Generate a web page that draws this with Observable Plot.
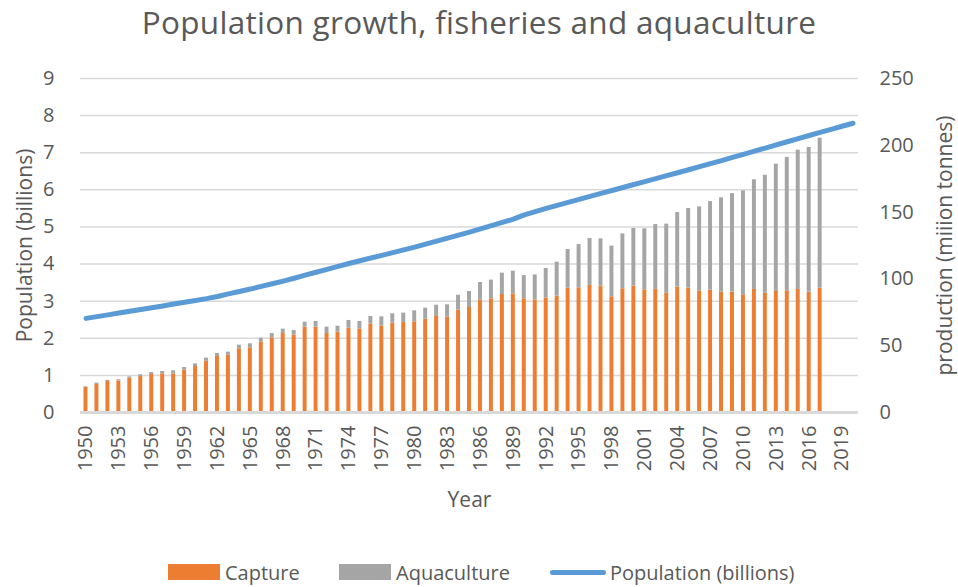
<!DOCTYPE html>
<html><head><meta charset="utf-8">
<script src="https://cdn.jsdelivr.net/npm/d3@7"></script>
<script src="https://cdn.jsdelivr.net/npm/@observablehq/plot@0.6"></script>
<style>
body{margin:0;background:#fff;font-family:"Open Sans", Lato, sans-serif;color:#595959;}
#wrap{position:relative;width:958px;height:587px;overflow:hidden;}
#title{position:absolute;left:0;top:0;width:958px;text-align:center;font-size:31.5px;line-height:44px;letter-spacing:0.3px;}
#chart{position:absolute;left:0;top:48px;}
.leg{position:absolute;top:560px;height:24px;display:flex;align-items:center;font-size:20px;white-space:nowrap;}
.sw{display:inline-block;width:52px;height:16px;margin-right:5px;}
.ln{display:inline-block;width:56px;height:5px;border-radius:3px;margin-right:4px;}
</style></head>
<body><div id="wrap">
<div id="title">Population growth, fisheries and aquaculture</div>
<div id="chart"></div>
<div class="leg" style="left:168px"><span class="sw" style="background:#ED7D31"></span>Capture</div>
<div class="leg" style="left:339px"><span class="sw" style="background:#A5A5A5"></span>Aquaculture</div>
<div class="leg" style="left:550px"><span class="ln" style="background:#5B9BD5"></span>Population (billions)</div>
</div>
<script>
const years = [1950,1951,1952,1953,1954,1955,1956,1957,1958,1959,1960,1961,1962,1963,1964,1965,1966,1967,1968,1969,1970,1971,1972,1973,1974,1975,1976,1977,1978,1979,1980,1981,1982,1983,1984,1985,1986,1987,1988,1989,1990,1991,1992,1993,1994,1995,1996,1997,1998,1999,2000,2001,2002,2003,2004,2005,2006,2007,2008,2009,2010,2011,2012,2013,2014,2015,2016,2017,2018,2019,2020];
// million tonnes, 1950-2017
const capture = [18.7,21.0,23.2,23.5,25.7,26.9,28.4,28.9,28.9,31.7,34.4,38.4,41.9,42.9,47.7,48.4,52.9,55.9,59.1,57.9,63.9,63.9,59.1,60.1,63.1,62.6,66.1,64.6,66.9,67.4,67.9,69.9,71.9,71.4,76.6,78.6,84.1,85.1,88.3,88.8,85.1,84.3,85.6,87.1,93.1,93.3,95.1,94.6,86.6,92.6,94.6,91.8,92.1,89.3,93.8,93.1,90.8,91.6,90.1,90.1,88.1,92.1,89.3,90.6,91.1,92.1,90.1,93.1];
const aquaculture = [0.5,1.0,0.8,1.0,1.0,1.3,1.5,1.8,2.3,2.0,2.0,2.3,2.3,2.3,2.7,3.0,2.7,3.2,3.3,3.5,3.7,4.2,4.8,4.5,5.8,5.5,5.8,7.0,7.0,7.0,8.2,8.2,8.4,9.2,11.2,12.0,13.2,14.0,16.0,17.0,17.4,18.7,22.2,25.4,28.9,32.4,35.1,35.4,37.9,41.1,43.1,45.7,48.6,51.7,55.9,59.6,63.1,66.3,70.6,73.8,77.8,82.1,88.3,95.3,99.8,104.3,108.3,112.2];
// billions, 1950-2020
const population = [2.536,2.584,2.631,2.679,2.728,2.773,2.821,2.871,2.922,2.971,3.019,3.068,3.126,3.195,3.262,3.326,3.397,3.468,3.541,3.618,3.700,3.779,3.858,3.937,4.015,4.089,4.162,4.234,4.308,4.383,4.458,4.536,4.617,4.698,4.778,4.861,4.946,5.034,5.121,5.209,5.327,5.414,5.498,5.581,5.663,5.744,5.824,5.904,5.983,6.062,6.143,6.222,6.301,6.381,6.461,6.542,6.623,6.705,6.789,6.873,6.957,7.041,7.126,7.211,7.296,7.380,7.464,7.548,7.631,7.713,7.795];
const leftTicks = [0,1,2,3,4,5,6,7,8,9];
const rightTicks = [0,50,100,150,200,250];
const xTicks = [1950,1953,1956,1959,1962,1965,1968,1971,1974,1977,1980,1983,1986,1989,1992,1995,1998,2001,2004,2007,2010,2013,2016,2019];
const seriesNames = ["Capture","Aquaculture"];

const k = 250 / 9; // production units per billion
const barData = [];
capture.forEach((v, i) => {
  barData.push({year: years[i], type: "Capture", value: v});
  barData.push({year: years[i], type: "Aquaculture", value: aquaculture[i]});
});
const popData = years.map((y, i) => ({year: y, pop: population[i]}));

const chart = Plot.plot({
  width: 958, height: 480,
  marginTop: 30, marginBottom: 116, marginLeft: 80, marginRight: 100,
  style: {fontFamily: '"Open Sans", Lato, sans-serif', fontSize: "18px", color: "#595959", background: "white", overflow: "visible"},
  x: {type: "band", domain: years, padding: 0},
  y: {domain: [0, 250]},
  color: {domain: seriesNames, range: ["#ED7D31", "#A5A5A5"]},
  marks: [
    Plot.ruleY(leftTicks.map(v => v * k), {stroke: "#d9d9d9", strokeWidth: 1.5}),
    Plot.barY(barData, {x: "year", y: "value", fill: "type", insetLeft: 3.5, insetRight: 3.5}),
    Plot.ruleY([0], {stroke: "#d9d9d9", strokeWidth: 3}),
    Plot.line(popData, {x: "year", y: d => d.pop * k, stroke: "#5B9BD5", strokeWidth: 5, strokeLinecap: "round", strokeLinejoin: "round"}),
    Plot.axisY(leftTicks.map(v => v * k), {anchor: "left", tickSize: 0, tickPadding: 26, tickFormat: d => String(Math.round(d / k)), label: null, fontSize: 20}),
    Plot.axisY(rightTicks, {anchor: "right", tickSize: 0, tickPadding: 21, label: null, fontSize: 20}),
    Plot.axisX(xTicks, {anchor: "bottom", tickSize: 0, tickPadding: 13, tickRotate: -90, tickFormat: d => String(d), label: null, fontSize: 20}),
    Plot.text(["Population (billions)"], {frameAnchor: "left", textAnchor: "middle", dx: -55, rotate: -90, fontSize: 21, fill: "#595959"}),
    Plot.text(["production (miiion tonnes)"], {frameAnchor: "right", textAnchor: "middle", dx: 87, rotate: -90, fontSize: 21, fill: "#595959"}),
    Plot.text(["Year"], {frameAnchor: "bottom", dy: 94, fontSize: 21, fill: "#595959"})
  ]
});
document.getElementById("chart").appendChild(chart);
</script>
</body></html>
